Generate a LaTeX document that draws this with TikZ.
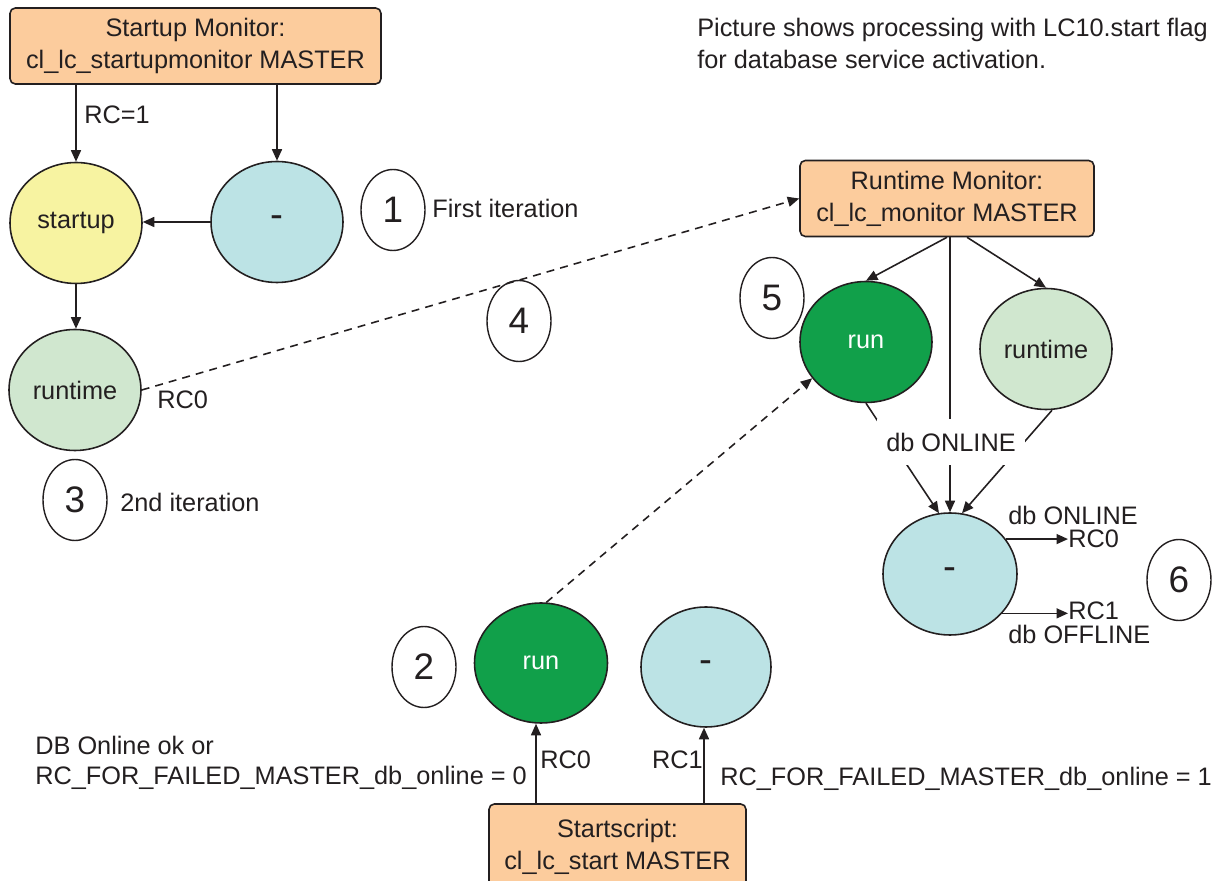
\documentclass[tikz,border=0pt]{standalone}
\usepackage{fontspec}
\setmainfont{Liberation Sans}
\usetikzlibrary{shapes.geometric,arrows.meta,calc}
\definecolor{ink}{HTML}{231F20}
\definecolor{peach}{HTML}{FCCC9D}
\definecolor{pyellow}{HTML}{F7F3A1}
\definecolor{pcyan}{HTML}{BCE3E5}
\definecolor{pgreen}{HTML}{D0E7CF}
\definecolor{dgreen}{HTML}{11A04A}
\begin{document}
\begin{tikzpicture}[x=0.02cm,y=-0.02cm,
  every node/.style={text=ink,font=\fontsize{14.4}{18.2}\selectfont},
  box/.style={draw=ink,fill=peach,line width=0.9pt,rounded corners=3pt,align=center,inner sep=0pt,minimum height=1.52cm},
  state/.style={ellipse,draw=ink,line width=0.9pt,inner sep=0pt,minimum width=2.64cm,minimum height=2.42cm},
  dashstate/.style={state,fill=pcyan,font=\fontsize{22}{26}\selectfont},
  num/.style={ellipse,draw=ink,fill=white,line width=0.8pt,inner sep=0pt,minimum width=1.28cm,minimum height=1.62cm,font=\fontsize{21}{25}\selectfont},
  lbl/.style={inner sep=0pt},
  conn/.style={draw=ink,line width=0.9pt},
  arr/.style={conn,-{Triangle[length=0.23cm,width=0.2cm]}},
  darr/.style={arr,dash pattern=on 4.5pt off 3.5pt}]
\useasboundingbox (0,0) rectangle (1215,881);
\clip (0,0) rectangle (1215,881);

% note at the top right
\node[lbl,anchor=west,align=left] (note) at (697,43)
  {Picture shows processing with LC10.start flag\\for database service activation.};

% startup monitor and its states
\node[box,minimum width=7.42cm] (sm) at (195.5,46) {Startup Monitor:\\cl\_lc\_startupmonitor MASTER};
\node[state,fill=pyellow] (startup) at (76,223) {startup};
\node[dashstate] (smdash) at (277,222) {-};
\node[state,fill=pgreen] (rt1) at (75,390) {runtime};

\draw[arr] (startup.north |- sm.south) -- (startup.north);
\node[lbl,anchor=west] (rc1a) at (84,115) {RC=1};
\draw[arr] (smdash.north |- sm.south) -- (smdash.north);
\draw[arr] (smdash.west) -- (smdash.west -| startup.east);
\draw[arr] (startup.south) -- (startup.south |- rt1.north);
\node[lbl,anchor=west] (rc0a) at (157,400) {RC0};

\node[num] (n1) at (393,210) {1};
\node[lbl,anchor=west] (it1) at (432,208) {First iteration};
\node[num] (n3) at (75,500) {3};
\node[lbl,anchor=west] (it2) at (120,502) {2nd iteration};
\node[num] (n4) at (519,321) {4};

% runtime monitor and its states
\node[box,minimum width=5.88cm] (rm) at (947,198.5) {Runtime Monitor:\\cl\_lc\_monitor MASTER};
\draw[darr] (rt1.east) -- (rm.west);
\node[num] (n5) at (772,298) {5};
\node[state,fill=dgreen,text=white] (run2) at (866,342) {run};
\node[state,fill=pgreen] (rt2) at (1046,349) {runtime};
\node[dashstate,minimum width=2.68cm,minimum height=2.44cm] (chk) at (950,574) {-};

\draw[arr] (rm.south) -- (run2.north);
\draw[arr] ($(rm.south)+(20,0)$) -- (rt2.north);
\draw[arr] (run2.south) -- ($(chk.north)+(-11,1)$);
\draw[arr] (chk.north |- rm.south) -- (chk.north);
\draw[arr] ($(rt2.south)+(6,0)$) -- ($(chk.north)+(12,1)$);
\node[fill=white,inner xsep=0.18cm,inner ysep=0.28cm] (dbon) at (951,442) {db ONLINE};

\node[lbl,anchor=west] (dbon2) at (1008,515) {db ONLINE};
\node[lbl,anchor=west] (rc0c) at (1068,539) {RC0};
\node[lbl,anchor=west] (rc1c) at (1068,611) {RC1};
\node[lbl,anchor=west] (dboff) at (1008,634) {db OFFLINE};
\draw[arr] (chk.32) -- (chk.32 -| rc0c.west);
\draw[arr] (chk.-37) -- (chk.-37 -| rc1c.west);
\node[num] (n6) at (1179,580) {6};

% start script and its states
\node[num] (n2) at (424,667) {2};
\node[state,fill=dgreen,text=white,minimum width=2.66cm,minimum height=2.4cm] (run3) at (541,663) {run};
\node[dashstate,minimum width=2.6cm,minimum height=2.4cm] (ssdash) at (706,667) {-};
\node[box,minimum width=5.14cm,minimum height=1.72cm] (ss) at (617.5,847) {Startscript:\\cl\_lc\_start MASTER};

\draw[arr] ([xshift=-0.1cm]run3.south |- ss.north) -- ([xshift=-0.1cm]run3.south);
\draw[arr] ([xshift=-0.04cm]ssdash.south |- ss.north) -- ([xshift=-0.04cm]ssdash.south);
\draw[darr] (run3.85) -- (run2.214);

\node[lbl,anchor=west] (rc0b) at (540,760) {RC0};
\node[lbl,anchor=east] (rc1b) at (703,760) {RC1};
\node[lbl,anchor=west,align=left,font=\fontsize{14.4}{17.2}\selectfont] (okl) at (35,763)
  {DB Online ok or\\RC\_FOR\_FAILED\_MASTER\_db\_online = 0};
\node[lbl,anchor=west] (failr) at (720,779) {RC\_FOR\_FAILED\_MASTER\_db\_online = 1};
\end{tikzpicture}
\end{document}
